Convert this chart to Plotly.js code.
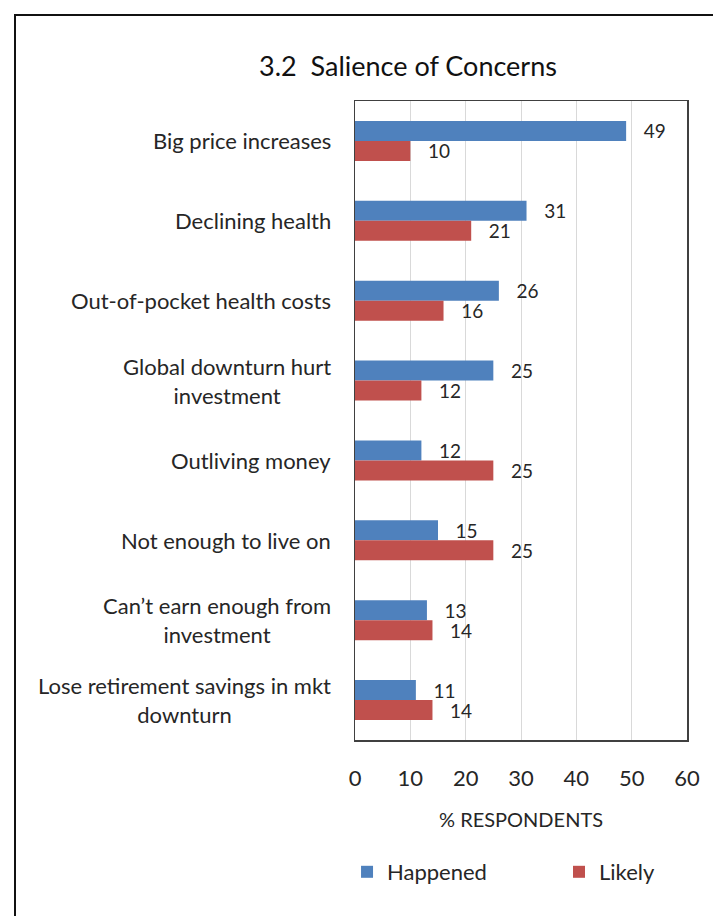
<!DOCTYPE html>
<html>
<head>
<meta charset="utf-8">
<script src="https://cdn.plot.ly/plotly-3.0.1.min.js"></script>
<style>
  html, body { margin:0; padding:0; background:#fff; }
  #wrap { position:relative; width:713px; height:916px; overflow:hidden; }
  #chart { position:absolute; left:0; top:0; width:713px; height:916px; }
  #frame { position:absolute; left:14px; top:14px; width:900px; height:1100px;
           border-left:2px solid #111; border-top:2px solid #111; pointer-events:none; z-index:10; }
</style>
</head>
<body>
<div id="wrap">
  <div id="chart"></div>
  <div id="frame"></div>
</div>
<script>
const categories = [
  "Big price increases",
  "Declining health",
  "Out-of-pocket health costs",
  "Global downturn hurt<br>investment",
  "Outliving money",
  "Not enough to live on",
  "Can\u2019t earn enough from<br>investment",
  "Lose retirement savings in mkt<br>downturn"
];
const happened = [49, 31, 26, 25, 12, 15, 13, 11];
const likely   = [10, 21, 16, 12, 25, 25, 14, 14];
const seriesNames = ["Happened", "Likely"];
const xTicks = [0, 10, 20, 30, 40, 50, 60];

const FONT = "Lato, 'Open Sans', sans-serif";
const TXT = "#262626";
const PAD = "\u00a0\u00a0\u00a0";

function barTrace(name, vals, color, legendId) {
  return {
    type: "bar", orientation: "h", name: name, legend: legendId,
    y: categories, x: vals,
    marker: { color: color },
    text: vals.map(v => PAD + v),
    textposition: "outside",
    textfont: { family: FONT, size: 19, color: TXT },
    constraintext: "none",
    cliponaxis: false,
    hoverinfo: "skip"
  };
}

const data = [
  barTrace(seriesNames[0], happened, "#4F81BD", "legend"),
  barTrace(seriesNames[1], likely, "#C0504D", "legend2")
];

const annotations = categories.map(c => ({
  xref: "paper", yref: "y", x: 0, y: c, xanchor: "right", yanchor: "middle",
  xshift: -22, text: c, align: "center", showarrow: false,
  font: { family: FONT, size: 22, color: TXT }
}));

const legY = (740 - 872) / 639;
const legFont = { family: FONT, size: 22, color: TXT };

const layout = {
  width: 713, height: 916,
  margin: { l: 355, r: 26, t: 101, b: 176 },
  paper_bgcolor: "#fff", plot_bgcolor: "#fff",
  font: { family: FONT, color: TXT },
  title: {
    text: "3.2  Salience of Concerns",
    font: { family: FONT, size: 27, color: "#111" },
    xref: "container", yref: "container",
    x: 408 / 713, xanchor: "center", y: 1 - 67 / 916, yanchor: "middle"
  },
  barmode: "group", bargap: 0.5, bargroupgap: 0,
  xaxis: {
    range: [0, 60], tickvals: xTicks, ticktext: xTicks.map(String),
    showgrid: true, gridcolor: "#d9d9d9", gridwidth: 1,
    zeroline: false, showline: true, linecolor: "#404040", linewidth: 1.5, mirror: true,
    ticks: "", ticklabelstandoff: 18,
    tickfont: { family: FONT, size: 22, color: TXT },
    title: { text: "% RESPONDENTS", font: { family: FONT, size: 20, color: TXT }, standoff: 23 },
    fixedrange: true
  },
  yaxis: {
    type: "category", autorange: "reversed", showticklabels: false,
    showgrid: false, zeroline: false, showline: true, linecolor: "#404040", linewidth: 1.5, mirror: true,
    ticks: "", fixedrange: true
  },
  showlegend: true,
  legend: {
    orientation: "h", x: -0.024, xanchor: "left", y: legY, yanchor: "middle",
    font: legFont, bgcolor: "rgba(0,0,0,0)"
  },
  legend2: {
    orientation: "h", x: 0.6145, xanchor: "left", y: legY, yanchor: "middle",
    font: legFont, bgcolor: "rgba(0,0,0,0)"
  },
  annotations: annotations
};

Plotly.newPlot("chart", data, layout, { displayModeBar: false, staticPlot: true });
</script>
</body>
</html>
